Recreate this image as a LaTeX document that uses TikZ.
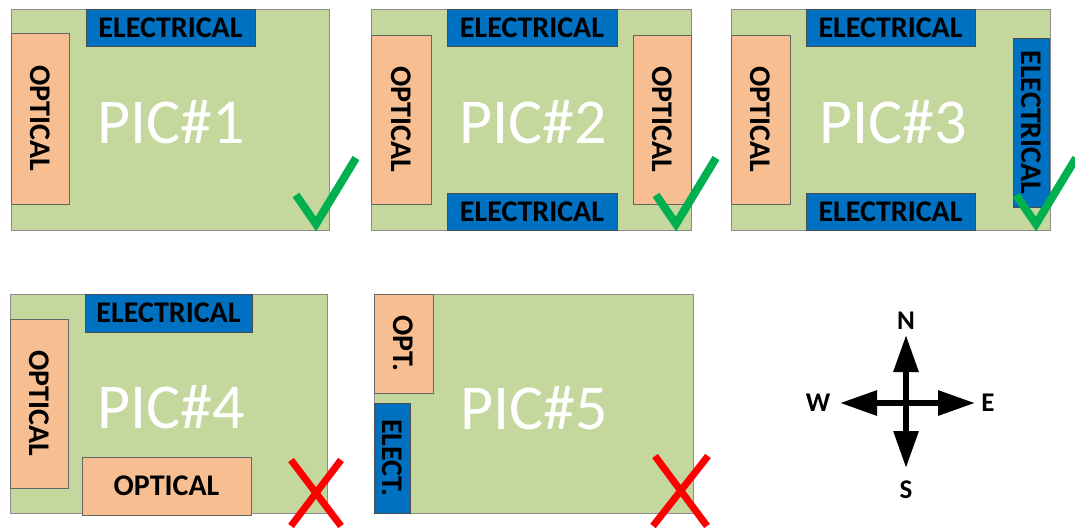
\documentclass[tikz,border=0pt]{standalone}
\usepackage{fontspec}
\setmainfont{Carlito}
\usetikzlibrary{arrows.meta}

\definecolor{boardgreen}{HTML}{C4D79C}
\definecolor{padblue}{HTML}{0070C0}
\definecolor{padorange}{HTML}{F7BE91}
\definecolor{okgreen}{HTML}{00B050}

\tikzset{
  board/.style={draw=black!45,fill=boardgreen,inner sep=0pt,
    text=white,font=\fontsize{64}{64}\selectfont},
  elec/.style={draw=black!70,fill=padblue,inner sep=0pt,
    font=\fontsize{30}{30}\selectfont\bfseries},
  opti/.style={draw=black!60,fill=padorange,inner sep=0pt,
    font=\fontsize{30}{30}\selectfont\bfseries},
  okmark/.style={okgreen,line width=8pt},
  nomark/.style={red,line width=7pt},
  compass/.style={line width=6pt,-{Triangle[length=37pt,width=24pt]}},
  dirlabel/.style={font=\fontsize{27}{27}\selectfont\bfseries},
}

\begin{document}
\begin{tikzpicture}[x=1pt,y=-1pt]
    \useasboundingbox (0,0) rectangle (1075,528);

    % PIC#1
    \node[board,minimum width=318pt,minimum height=221pt] (p1) at (170,119.5) {};
    \node[elec,minimum width=169pt,minimum height=37pt] (e1) at (170.5,27.5) {ELECTRICAL};
    \node[opti,rotate=-90,minimum width=171pt,minimum height=58pt] (o1) at (40,118.5) {OPTICAL};
    \node[text=white,font=\fontsize{64}{64}\selectfont] (t1) at (171,122) {PIC\#1};
    \draw[okmark] (296,195) -- (316,224) -- (356,158);

    % PIC#2
    \node[board,minimum width=320pt,minimum height=221pt] (p2) at (531,119.5) {};
    \node[elec,minimum width=170pt,minimum height=37pt] (e2a) at (532,27.5) {ELECTRICAL};
    \node[elec,minimum width=170pt,minimum height=37pt] (e2b) at (532,211.5) {ELECTRICAL};
    \node[opti,rotate=-90,minimum width=169pt,minimum height=60pt] (o2a) at (401,119.5) {OPTICAL};
    \node[opti,rotate=-90,minimum width=169pt,minimum height=58pt] (o2b) at (662,119.5) {OPTICAL};
    \node[text=white,font=\fontsize{64}{64}\selectfont] (t2) at (533,122) {PIC\#2};
    \draw[okmark] (656,195) -- (676,224) -- (716,158);

    % PIC#3
    \node[board,minimum width=319pt,minimum height=221pt] (p3) at (890.5,119.5) {};
    \node[elec,minimum width=169pt,minimum height=37pt] (e3a) at (890.5,27.5) {ELECTRICAL};
    \node[elec,minimum width=169pt,minimum height=37pt] (e3b) at (890.5,211.5) {ELECTRICAL};
    \node[opti,rotate=-90,minimum width=169pt,minimum height=59pt] (o3) at (760.5,119.5) {OPTICAL};
    \node[elec,rotate=-90,minimum width=169pt,minimum height=36pt] (e3c) at (1031,122.5) {ELECTRICAL};
    \node[text=white,font=\fontsize{64}{64}\selectfont] (t3) at (893,122) {PIC\#3};
    \draw[okmark] (1016,195) -- (1036,224) -- (1076,158);

    % PIC#4
    \node[board,minimum width=317pt,minimum height=219pt] (p4) at (168.5,403.5) {};
    \node[elec,minimum width=167pt,minimum height=38pt] (e4) at (168.5,313) {ELECTRICAL};
    \node[opti,rotate=-90,minimum width=169pt,minimum height=58pt] (o4a) at (39,403.5) {OPTICAL};
    \node[opti,minimum width=169pt,minimum height=58pt] (o4b) at (166.5,486) {OPTICAL};
    \node[text=white,font=\fontsize{64}{64}\selectfont] (t4) at (171,407) {PIC\#4};
    \draw[nomark] (291,460) -- (341,526);
    \draw[nomark] (341,460) -- (291,526);

    % PIC#5
    \node[board,minimum width=319pt,minimum height=219pt] (p5) at (533.5,403.5) {};
    \node[opti,rotate=-90,minimum width=99pt,minimum height=59pt] (o5) at (403.5,343.5) {OPT.};
    \node[elec,rotate=-90,minimum width=110pt,minimum height=36pt] (e5) at (392,458) {ELECT.};
    \node[text=white,font=\fontsize{64}{64}\selectfont] (t5) at (534,408) {PIC\#5};
    \draw[nomark] (655,456) -- (707,526);
    \draw[nomark] (708,456) -- (653,526);

    % compass
    \coordinate (c) at (906,403);
    \coordinate (ntip) at (906,335);
    \coordinate (stip) at (906,468);
    \coordinate (wtip) at (840,403);
    \coordinate (etip) at (975,403);
    \draw[compass] (c) -- (ntip);
    \draw[compass] (c) -- (stip);
    \draw[compass] (c) -- (wtip);
    \draw[compass] (c) -- (etip);
    \node[dirlabel] (n) at (906,321) {N};
    \node[dirlabel] (s) at (906,490) {S};
    \node[dirlabel] (w) at (818,403) {W};
    \node[dirlabel] (e) at (988,403) {E};
\end{tikzpicture}
\end{document}
